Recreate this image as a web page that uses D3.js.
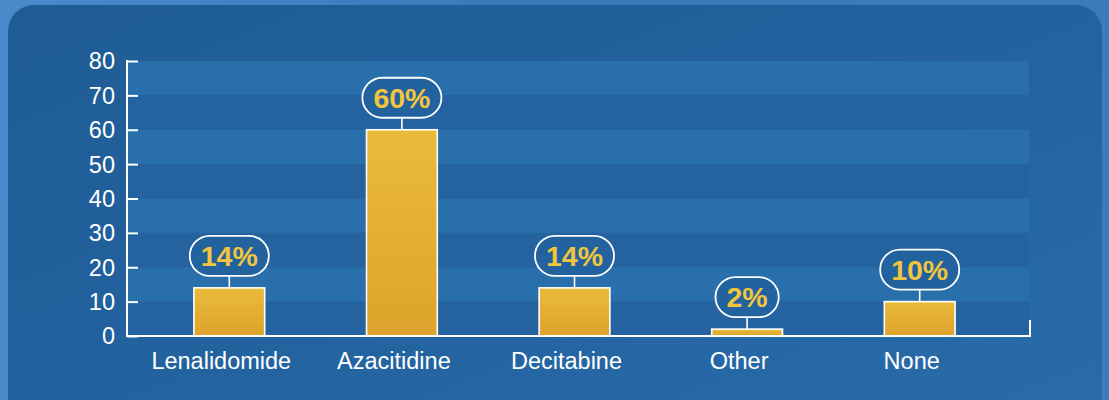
<!DOCTYPE html>
<html>
<head>
<meta charset="utf-8">
<script src="https://cdn.jsdelivr.net/npm/d3@7"></script>
<style>
  html, body { margin: 0; padding: 0; background: #3f80c0; }
  svg { display: block; }
</style>
</head>
<body>
<script>
// Data
const categories = ["Lenalidomide", "Azacitidine", "Decitabine", "Other", "None"];
const shares = [14, 60, 14, 2, 10];
const valueLabels = ["14%", "60%", "14%", "2%", "10%"];
const yTickValues = [0, 10, 20, 30, 40, 50, 60, 70, 80];

const W = 1109, H = 400;
const svg = d3.select("body").append("svg").attr("width", W).attr("height", H);
const defs = svg.append("defs");

// Background gradients
const outerGrad = defs.append("linearGradient").attr("id", "outer").attr("x1", 0).attr("x2", 1).attr("y1", 0).attr("y2", 0);
outerGrad.append("stop").attr("offset", 0).attr("stop-color", "#4a8acb");
outerGrad.append("stop").attr("offset", 0.5).attr("stop-color", "#3a78b8");
outerGrad.append("stop").attr("offset", 1).attr("stop-color", "#3c7cbc");

const panelGrad = defs.append("linearGradient").attr("id", "panel").attr("x1", 0).attr("x2", 1).attr("y1", 0).attr("y2", 1);
panelGrad.append("stop").attr("offset", 0).attr("stop-color", "#1f5c95");
panelGrad.append("stop").attr("offset", 0.55).attr("stop-color", "#2363a0");
panelGrad.append("stop").attr("offset", 1).attr("stop-color", "#2a6cab");

const barGrad = defs.append("linearGradient").attr("id", "bar").attr("x1", 0).attr("x2", 0).attr("y1", 0).attr("y2", 1);
barGrad.append("stop").attr("offset", 0).attr("stop-color", "#eabb3b");
barGrad.append("stop").attr("offset", 1).attr("stop-color", "#dda32c");

svg.append("rect").attr("width", W).attr("height", H).attr("fill", "url(#outer)");
svg.append("rect").attr("x", 8).attr("y", 5).attr("width", 1094).attr("height", 430)
  .attr("rx", 26).attr("ry", 26).attr("fill", "url(#panel)");

// Scales
const x = d3.scaleBand().domain(categories).range([143, 1006]).paddingInner(0.59).paddingOuter(0.295);
const y = d3.scaleLinear().domain([0, 80]).range([336, 61]);

const axisLeftX = 127, axisRightX = 1030;

// Alternating horizontal stripes
const bands = d3.pairs(yTickValues).reverse();
svg.append("g").selectAll("rect").data(bands).join("rect")
  .attr("x", axisLeftX + 1)
  .attr("width", axisRightX - axisLeftX - 2)
  .attr("y", d => y(d[1]))
  .attr("height", d => y(d[0]) - y(d[1]))
  .attr("fill", (d, i) => i % 2 === 0 ? "#296fac" : "#2463a0");

// Y axis
const yAxis = d3.axisRight(y).tickValues(yTickValues).tickSize(11).tickFormat("");
const gy = svg.append("g").attr("transform", `translate(${axisLeftX},0)`).call(yAxis);
gy.select(".domain").remove();
gy.selectAll(".tick line").attr("stroke", "#ffffff").attr("stroke-width", 2);
svg.append("line").attr("x1", axisLeftX).attr("x2", axisLeftX)
  .attr("y1", y(80) - 1).attr("y2", y(0) + 1)
  .attr("stroke", "#ffffff").attr("stroke-width", 2);

svg.append("g").selectAll("text").data(yTickValues).join("text")
  .attr("x", 115).attr("y", d => y(d)).attr("dy", "0.36em")
  .attr("text-anchor", "end")
  .attr("font-family", "Liberation Sans, Arial, sans-serif")
  .attr("font-size", 23.5).attr("fill", "#ffffff")
  .text(d => d);

// Bars
const bars = svg.append("g").selectAll("g").data(categories).join("g");
bars.append("rect")
  .attr("x", d => x(d))
  .attr("width", x.bandwidth())
  .attr("y", (d, i) => y(shares[i]))
  .attr("height", (d, i) => y(0) - y(shares[i]))
  .attr("fill", "url(#bar)")
  .attr("stroke", "#ffffff").attr("stroke-width", 1.6);

// X axis baseline with closing tick on the right
svg.append("path")
  .attr("d", `M${axisLeftX},${y(0)}H${axisRightX}V${y(0) - 16}`)
  .attr("fill", "none").attr("stroke", "#ffffff").attr("stroke-width", 2);

// Category labels
svg.append("g").selectAll("text").data(categories).join("text")
  .attr("x", d => x(d) + x.bandwidth() / 2 - 8)
  .attr("y", 369)
  .attr("text-anchor", "middle")
  .attr("font-family", "Liberation Sans, Arial, sans-serif")
  .attr("font-size", 23.5).attr("fill", "#ffffff")
  .text(d => d);

// Value callouts: pill with connector to bar top
const pillH = 40, gap = 12;
bars.each(function (d, i) {
  const g = d3.select(this);
  const cx = x(d) + x.bandwidth() / 2;
  const top = y(shares[i]);
  const pillBottom = top - gap;
  const cy = pillBottom - pillH / 2;
  g.append("line").attr("x1", cx).attr("x2", cx).attr("y1", pillBottom).attr("y2", top)
    .attr("stroke", "#ffffff").attr("stroke-width", 1.6);
  const pill = g.append("rect");
  const t = g.append("text")
    .attr("x", cx).attr("y", cy).attr("dy", "0.36em")
    .attr("text-anchor", "middle")
    .attr("font-family", "Liberation Sans, Arial, sans-serif")
    .attr("font-weight", "bold").attr("font-size", 28.5)
    .attr("fill", "#f3c53c")
    .text(valueLabels[i]);
  const tw = t.node().getComputedTextLength();
  const pw = tw + 22;
  pill.attr("x", cx - pw / 2).attr("y", pillBottom - pillH)
    .attr("width", pw).attr("height", pillH)
    .attr("rx", pillH / 2).attr("ry", pillH / 2)
    .attr("fill", "#22629e")
    .attr("stroke", "#ffffff").attr("stroke-width", 1.8);
});
</script>
</body>
</html>
